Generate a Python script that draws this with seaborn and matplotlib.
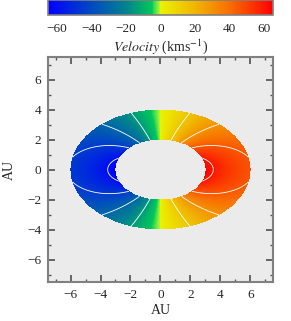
import numpy as np
import matplotlib
matplotlib.use("Agg")
import matplotlib.pyplot as plt
from matplotlib.colors import LinearSegmentedColormap
import seaborn as sns

# disk model
r_inner = 3.0          # AU, inner edge along major axis
r_outer = 6.0          # AU, outer edge along major axis
cos_incl = 2.0 / 3.0   # minor/major axis ratio
v_peak = 65.0          # km/s at inner edge on the major axis
contour_levels = [-60, -45, -30, -15, 15, 30, 45, 60]
vel_ticks = [-60, -40, -20, 0, 20, 40, 60]
au_ticks = [-6, -4, -2, 0, 2, 4, 6]

sns.set_theme(style="ticks")
plt.rcParams['font.family'] = ['Liberation Serif', 'DejaVu Serif']
plt.rcParams['mathtext.fontset'] = 'stix'

cmap = LinearSegmentedColormap.from_list("vel", [
    (0.0, (0.0, 0.0, 1.0)),
    (0.2, (0.0, 0.30, 0.75)),
    (0.35, (0.0, 0.52, 0.55)),
    (0.46, (0.0, 0.78, 0.35)),
    (0.5, (0.75, 1.0, 0.2)),
    (0.5, (0.92, 0.95, 0.0)),
    (0.65, (0.94, 0.72, 0.0)),
    (0.8, (0.97, 0.45, 0.0)),
    (1.0, (1.0, 0.0, 0.0)),
])

x = np.linspace(-7.5, 7.5, 700)
X, Y = np.meshgrid(x, x)
R = np.sqrt(X**2 + (Y / cos_incl)**2)
V = v_peak * np.sqrt(r_inner) * X / np.maximum(R, 1e-6)**1.5
V = np.ma.masked_where((R < r_inner) | (R > r_outer), V)

fig = plt.figure(figsize=(2.91, 3.21), dpi=100)
ax = fig.add_axes([0.165, 0.1215, 0.773, 0.7005])
ax.set_facecolor('#ebebeb')
mesh = ax.pcolormesh(X, Y, V, cmap=cmap, vmin=-65, vmax=65, shading='auto', rasterized=True)
ax.contour(X, Y, V, levels=contour_levels, colors='white', linewidths=0.6, linestyles='solid')

ax.set_xlim(-7.5, 7.5)
ax.set_ylim(-7.5, 7.5)
ax.set_xticks(au_ticks)
ax.set_yticks(au_ticks)
ax.set_xticks(np.arange(-7, 8, 1), minor=True)
ax.set_yticks(np.arange(-7, 8, 1), minor=True)
ax.tick_params(which='both', direction='in', top=True, right=True, color='#555555', labelsize=9.5)
ax.tick_params(which='major', length=5, pad=5)
ax.tick_params(which='minor', length=2.5)
for s in ax.spines.values():
    s.set_color('#808080')
    s.set_linewidth(1.5)
ax.set_xlabel("AU", fontsize=10, labelpad=2)
ax.set_ylabel("AU", fontsize=10, labelpad=8)

cax = fig.add_axes([0.165, 0.953, 0.773, 0.047])
cb = fig.colorbar(mesh, cax=cax, orientation='horizontal', ticks=vel_ticks)
cb.outline.set_edgecolor('#808080')
cb.outline.set_linewidth(1.2)
cax.tick_params(direction='in', top=True, length=3, pad=6, color='#555555', labelsize=9.5)
cb.set_label(r"$\it{Velocity}$ (kms$^{-1}$)", fontsize=10, labelpad=1)

fig.savefig("out.png", dpi=100)
